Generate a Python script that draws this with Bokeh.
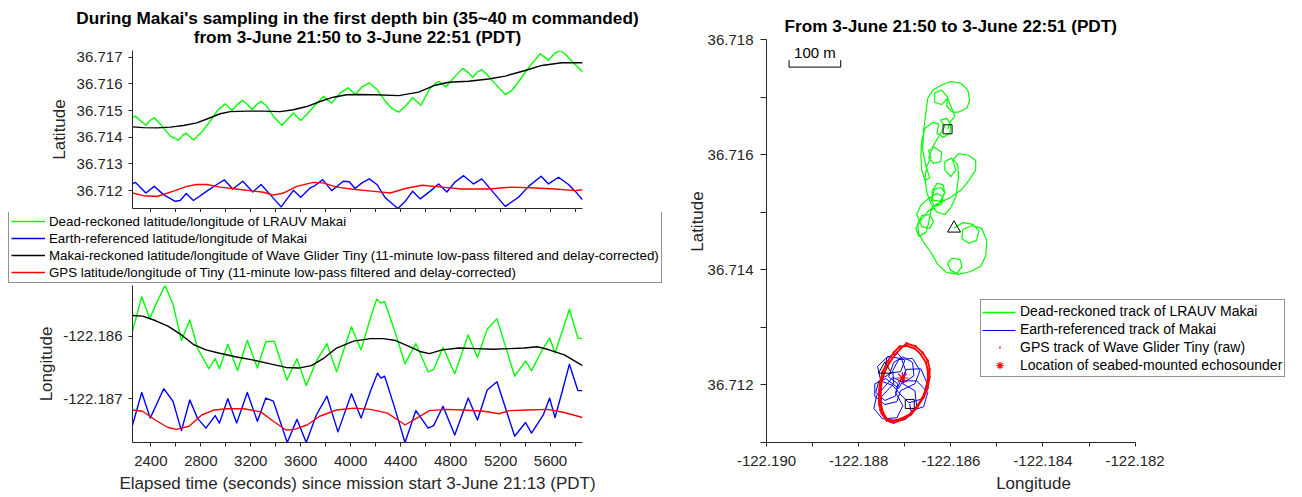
from bokeh.plotting import figure
from bokeh.layouts import row, column
from bokeh.models import (Range1d, FixedTicker, PrintfTickFormatter, CustomJSTickFormatter,
                          Legend, LegendItem, Label)
from bokeh.embed import file_html
from bokeh.resources import INLINE
import math

FONT = "Liberation Sans"
AXC = "#262626"
GREEN, BLUE, BLACK, RED = "#00FF00", "#0000FF", "#000000", "#FF0000"

# ---------------- time series: latitude ----------------
LAT_T_GREEN = [2253, 2275, 2315, 2360, 2395, 2427, 2475, 2555, 2621, 2656,
               2683, 2709, 2741, 2808, 2875, 2933, 2995, 3048, 3093, 3136,
               3173, 3211, 3248, 3283, 3328, 3381, 3448, 3501, 3541, 3600,
               3648, 3701, 3781, 3848, 3915, 3981, 4037, 4090, 4149, 4210,
               4277, 4330, 4384, 4437, 4496, 4562, 4637, 4704, 4762, 4837,
               4898, 4944, 4978, 5016, 5050, 5104, 5157, 5237, 5290, 5344,
               5424, 5517, 5552, 5584, 5629, 5677, 5722, 5770, 5818, 5856]
LAT_GREEN = [36.71473, 36.71479, 36.71463, 36.71445, 36.71463, 36.71473, 36.71450, 36.71404, 36.71389, 36.71408,
             36.71415, 36.71404, 36.71390, 36.71420, 36.71460, 36.71500, 36.71525, 36.71500, 36.71523, 36.71538,
             36.71523, 36.71504, 36.71523, 36.71535, 36.71516, 36.71479, 36.71445, 36.71470, 36.71491, 36.71463,
             36.71485, 36.71513, 36.71553, 36.71528, 36.71566, 36.71585, 36.71560, 36.71588, 36.71604, 36.71579,
             36.71535, 36.71508, 36.71494, 36.71516, 36.71548, 36.71520, 36.71585, 36.71610, 36.71588, 36.71629,
             36.71658, 36.71641, 36.71625, 36.71645, 36.71653, 36.71629, 36.71600, 36.71560, 36.71575, 36.71608,
             36.71660, 36.71713, 36.71700, 36.71688, 36.71713, 36.71725, 36.71710, 36.71685, 36.71663, 36.71645]

LAT_T_BLUE = [2253, 2275, 2315, 2360, 2427, 2501, 2595, 2635, 2683, 2741,
              2848, 2928, 2989, 3056, 3136, 3216, 3283, 3355, 3443, 3541,
              3600, 3675, 3715, 3776, 3848, 3941, 3989, 4035, 4090, 4149,
              4210, 4277, 4378, 4437, 4496, 4557, 4637, 4704, 4770, 4837,
              4904, 4984, 5050, 5157, 5237, 5344, 5424, 5525, 5584, 5664,
              5744, 5797, 5856]
LAT_BLUE = [36.71225, 36.71231, 36.71213, 36.71191, 36.71216, 36.71185, 36.71160, 36.71163, 36.71189, 36.71163,
            36.71198, 36.71223, 36.71240, 36.71206, 36.71235, 36.71195, 36.71223, 36.71185, 36.71139, 36.71201,
            36.71175, 36.71210, 36.71219, 36.71241, 36.71200, 36.71235, 36.71233, 36.71208, 36.71229, 36.71244,
            36.71223, 36.71173, 36.71133, 36.71160, 36.71198, 36.71169, 36.71198, 36.71225, 36.71195, 36.71233,
            36.71256, 36.71225, 36.71244, 36.71185, 36.71141, 36.71175, 36.71216, 36.71254, 36.71225, 36.71250,
            36.71223, 36.71198, 36.71166]

LAT_T_BLACK = [2253, 2341, 2448, 2555, 2661, 2768, 2875, 2955, 3035, 3168,
               3301, 3435, 3541, 3648, 3755, 3861, 3968, 4037, 4197, 4384,
               4544, 4677, 4784, 4944, 5104, 5237, 5397, 5530, 5690, 5856]
LAT_BLACK = [36.71439, 36.71436, 36.71435, 36.71438, 36.71444, 36.71454, 36.71473, 36.71488, 36.71496, 36.71498,
             36.71498, 36.71496, 36.71503, 36.71515, 36.71534, 36.71550, 36.71559, 36.71560, 36.71559, 36.71556,
             36.71569, 36.71595, 36.71606, 36.71610, 36.71618, 36.71629, 36.71650, 36.71669, 36.71679, 36.71679]

LAT_T_RED = [2253, 2341, 2448, 2581, 2688, 2768, 2848, 2955, 3115, 3301,
             3381, 3461, 3568, 3701, 3781, 3888, 4035, 4170, 4317, 4437,
             4570, 4730, 4890, 5104, 5290, 5477, 5637, 5797, 5856]
LAT_RED = [36.71191, 36.71181, 36.71178, 36.71198, 36.71216, 36.71223, 36.71223, 36.71213, 36.71204, 36.71194,
           36.71183, 36.71191, 36.71216, 36.71231, 36.71229, 36.71213, 36.71204, 36.71198, 36.71191, 36.71208,
           36.71220, 36.71213, 36.71206, 36.71206, 36.71213, 36.71210, 36.71206, 36.71200, 36.71203]

# ---------------- time series: longitude ----------------
LON_T_GREEN = [2253, 2327, 2391, 2452, 2513, 2577, 2645, 2712, 2773, 2864,
               2915, 2949, 3016, 3094, 3172, 3253, 3320, 3388, 3489, 3570,
               3644, 3725, 3810, 3887, 4006, 4083, 4158, 4208, 4242, 4272,
               4353, 4435, 4522, 4620, 4664, 4739, 4833, 4941, 5015, 5093,
               5171, 5313, 5400, 5448, 5542, 5593, 5636, 5694, 5751, 5819, 5856]
LON_GREEN = [-122.18592, -122.18537, -122.18572, -122.18544, -122.18519, -122.18549, -122.18607, -122.18574, -122.18619, -122.18652,
             -122.18636, -122.18652, -122.18613, -122.18655, -122.18607, -122.18651, -122.18609, -122.18608, -122.18670, -122.18636,
             -122.18679, -122.18640, -122.18612, -122.18657, -122.18585, -122.18622, -122.18571, -122.18541, -122.18547, -122.18545,
             -122.18592, -122.18644, -122.18612, -122.18657, -122.18653, -122.18618, -122.18660, -122.18598, -122.18634, -122.18589,
             -122.18572, -122.18664, -122.18640, -122.18655, -122.18619, -122.18603, -122.18627, -122.18592, -122.18557, -122.18603, -122.18604]

LON_T_BLUE = [2253, 2327, 2395, 2503, 2577, 2645, 2712, 2773, 2841, 2915,
              2949, 3016, 3087, 3172, 3253, 3320, 3381, 3492, 3570, 3644,
              3725, 3810, 3898, 4006, 4083, 4158, 4215, 4242, 4272, 4353,
              4435, 4522, 4620, 4664, 4739, 4833, 4941, 5015, 5093, 5171,
              5313, 5400, 5448, 5542, 5593, 5636, 5694, 5751, 5819, 5856]
LON_BLUE = [-122.18742, -122.18690, -122.18731, -122.18684, -122.18704, -122.18751, -122.18702, -122.18731, -122.18747, -122.18727,
            -122.18739, -122.18700, -122.18739, -122.18690, -122.18736, -122.18699, -122.18704, -122.18770, -122.18733, -122.18770,
            -122.18726, -122.18696, -122.18753, -122.18692, -122.18731, -122.18688, -122.18659, -122.18667, -122.18664, -122.18715,
            -122.18770, -122.18719, -122.18747, -122.18743, -122.18712, -122.18758, -122.18699, -122.18734, -122.18686, -122.18673,
            -122.18760, -122.18738, -122.18755, -122.18726, -122.18699, -122.18730, -122.18688, -122.18645, -122.18687, -122.18687]

LON_T_BLACK = [2253, 2334, 2435, 2537, 2638, 2739, 2841, 2942, 3077, 3212,
               3347, 3482, 3584, 3685, 3786, 3887, 4023, 4158, 4259, 4360,
               4462, 4563, 4630, 4732, 4867, 5002, 5137, 5272, 5390, 5492,
               5576, 5711, 5856]
LON_BLACK = [-122.18567, -122.18568, -122.18575, -122.18584, -122.18597, -122.18613, -122.18622, -122.18627, -122.18633, -122.18638,
             -122.18644, -122.18650, -122.18651, -122.18647, -122.18635, -122.18619, -122.18608, -122.18604, -122.18604, -122.18607,
             -122.18616, -122.18625, -122.18628, -122.18622, -122.18619, -122.18620, -122.18621, -122.18620, -122.18619, -122.18617,
             -122.18621, -122.18630, -122.18647]

LON_T_RED = [2253, 2334, 2435, 2537, 2604, 2706, 2807, 2908, 3010, 3145,
             3280, 3381, 3482, 3550, 3651, 3752, 3887, 4023, 4158, 4293,
             4394, 4435, 4529, 4630, 4765, 4901, 5069, 5188, 5272, 5407,
             5576, 5711, 5856]
LON_RED = [-122.18718, -122.18720, -122.18734, -122.18746, -122.18749, -122.18744, -122.18726, -122.18718, -122.18716, -122.18716,
           -122.18721, -122.18736, -122.18750, -122.18749, -122.18742, -122.18728, -122.18718, -122.18715, -122.18717, -122.18723,
           -122.18736, -122.18742, -122.18731, -122.18719, -122.18717, -122.18718, -122.18720, -122.18724, -122.18719, -122.18718,
           -122.18717, -122.18722, -122.18730]

# ---------------- map tracks ----------------
MAP_GREEN_LON = [-122.18593, -122.18574, -122.18552, -122.18539, -122.18544, -122.18561, -122.18576, -122.18574, -122.18554, -122.18533,
                 -122.18522, -122.18524, -122.18535, -122.18557, -122.18583, -122.18600, -122.18607, -122.18598, -122.18580, -122.18576,
                 -122.18587, -122.18609, -122.18628, -122.18643, -122.18656, -122.18669, -122.18672, -122.18663, -122.18646, -122.18637,
                 -122.18646, -122.18663, -122.18674, -122.18665, -122.18648, -122.18630, -122.18617, -122.18620, -122.18635, -122.18643,
                 -122.18635, -122.18620, -122.18613, -122.18622, -122.18639, -122.18641, -122.18630, -122.18617, -122.18613, -122.18626,
                 -122.18648, -122.18665, -122.18676, -122.18669, -122.18654, -122.18648, -122.18643, -122.18630, -122.18604, -122.18578,
                 -122.18561, -122.18546, -122.18546, -122.18561, -122.18583, -122.18596, -122.18589, -122.18600, -122.18613, -122.18613,
                 -122.18598, -122.18585, -122.18583, -122.18589, -122.18600, -122.18613, -122.18630, -122.18643, -122.18652, -122.18656,
                 -122.18652, -122.18643, -122.18648, -122.18635, -122.18620, -122.18622, -122.18637, -122.18648, -122.18639, -122.18626,
                 -122.18613, -122.18622, -122.18609, -122.18600, -122.18602, -122.18617, -122.18630, -122.18626, -122.18639, -122.18656,
                 -122.18663, -122.18665, -122.18663, -122.18656, -122.18646, -122.18654, -122.18661, -122.18659, -122.18654, -122.18650,
                 -122.18639, -122.18622, -122.18600, -122.18578, -122.18563, -122.18559, -122.18565, -122.18583, -122.18596, -122.18609,
                 -122.18607, -122.18620, -122.18635, -122.18635, -122.18620, -122.18607, -122.18591, -122.18602, -122.18607]
MAP_GREEN_LAT = [36.71472, 36.71482, 36.71479, 36.71467, 36.71451, 36.71446, 36.71454, 36.71470, 36.71477, 36.71472,
                 36.71451, 36.71425, 36.71406, 36.71397, 36.71392, 36.71399, 36.71411, 36.71420, 36.71418, 36.71406,
                 36.71393, 36.71395, 36.71409, 36.71430, 36.71444, 36.71461, 36.71479, 36.71494, 36.71496, 36.71484,
                 36.71472, 36.71475, 36.71496, 36.71512, 36.71524, 36.71533, 36.71527, 36.71514, 36.71510, 36.71522,
                 36.71540, 36.71543, 36.71533, 36.71519, 36.71521, 36.71536, 36.71550, 36.71548, 36.71534, 36.71515,
                 36.71503, 36.71486, 36.71472, 36.71458, 36.71465, 36.71482, 36.71503, 36.71515, 36.71524, 36.71538,
                 36.71555, 36.71573, 36.71590, 36.71599, 36.71602, 36.71590, 36.71573, 36.71562, 36.71573, 36.71588,
                 36.71594, 36.71583, 36.71562, 36.71527, 36.71508, 36.71496, 36.71500, 36.71514, 36.71534, 36.71559,
                 36.71580, 36.71594, 36.71607, 36.71613, 36.71604, 36.71588, 36.71585, 36.71594, 36.71614, 36.71632,
                 36.71649, 36.71660, 36.71663, 36.71653, 36.71637, 36.71630, 36.71637, 36.71653, 36.71656, 36.71646,
                 36.71625, 36.71599, 36.71573, 36.71555, 36.71560, 36.71581, 36.71607, 36.71642, 36.71674, 36.71698,
                 36.71712, 36.71720, 36.71727, 36.71724, 36.71712, 36.71694, 36.71681, 36.71674, 36.71674, 36.71684,
                 36.71700, 36.71712, 36.71707, 36.71691, 36.71687, 36.71698, 36.71667, 36.71656, 36.71644]

MAP_BLUE_LON = [-122.18743, -122.18739, -122.18717, -122.18700, -122.18709, -122.18730, -122.18756, -122.18763, -122.18743, -122.18720,
                -122.18715, -122.18735, -122.18724, -122.18704, -122.18683, -122.18680, -122.18702, -122.18726, -122.18761, -122.18767,
                -122.18748, -122.18717, -122.18704, -122.18720, -122.18709, -122.18696, -122.18665, -122.18652, -122.18661, -122.18691,
                -122.18711, -122.18726, -122.18752, -122.18759, -122.18737, -122.18707, -122.18698, -122.18704, -122.18678, -122.18674,
                -122.18698, -122.18733, -122.18754, -122.18750, -122.18724, -122.18726, -122.18713, -122.18683, -122.18667, -122.18678,
                -122.18709, -122.18717, -122.18743, -122.18765, -122.18765, -122.18741, -122.18713, -122.18704, -122.18674, -122.18650,
                -122.18659, -122.18687, -122.18689]
MAP_BLUE_LAT = [36.71227, 36.71247, 36.71256, 36.71242, 36.71223, 36.71221, 36.71207, 36.71187, 36.71173, 36.71181,
                36.71202, 36.71214, 36.71239, 36.71249, 36.71239, 36.71216, 36.71204, 36.71213, 36.71181, 36.71159,
                36.71141, 36.71143, 36.71164, 36.71187, 36.71207, 36.71227, 36.71228, 36.71204, 36.71176, 36.71169,
                36.71185, 36.71199, 36.71207, 36.71232, 36.71249, 36.71246, 36.71225, 36.71202, 36.71190, 36.71162,
                36.71140, 36.71136, 36.71155, 36.71180, 36.71202, 36.71225, 36.71244, 36.71246, 36.71225, 36.71202,
                36.71190, 36.71171, 36.71166, 36.71180, 36.71202, 36.71211, 36.71194, 36.71207, 36.71207, 36.71187,
                36.71162, 36.71155, 36.71167]

MAP_RED_LON = [-122.18696, -122.18676, -122.18661, -122.18650, -122.18646, -122.18646, -122.18650, -122.18659, -122.18672, -122.18687,
               -122.18704, -122.18724, -122.18739, -122.18750, -122.18756, -122.18756, -122.18754, -122.18748, -122.18737, -122.18724,
               -122.18711, -122.18696, -122.18678, -122.18665, -122.18654, -122.18650, -122.18650, -122.18654, -122.18663, -122.18676,
               -122.18691, -122.18709, -122.18726, -122.18739, -122.18748, -122.18752, -122.18752, -122.18750, -122.18743, -122.18733,
               -122.18720, -122.18709, -122.18696]
MAP_RED_LAT = [36.71272, 36.71267, 36.71256, 36.71242, 36.71228, 36.71213, 36.71195, 36.71178, 36.71162, 36.71148,
               36.71140, 36.71134, 36.71138, 36.71150, 36.71167, 36.71187, 36.71204, 36.71223, 36.71241, 36.71256,
               36.71267, 36.71268, 36.71263, 36.71253, 36.71239, 36.71225, 36.71209, 36.71192, 36.71176, 36.71160,
               36.71148, 36.71141, 36.71138, 36.71141, 36.71154, 36.71169, 36.71187, 36.71206, 36.71223, 36.71239,
               36.71253, 36.71263, 36.71272]

ECHO_LON = [-122.18705]
ECHO_LAT = [36.71212]

# ---------------- ticks / labels ----------------
TIME_TICKS = [2400, 2800, 3200, 3600, 4000, 4400, 4800, 5200, 5600]
TIME_MINOR = [2600, 3000, 3400, 3800, 4200, 4600, 5000, 5400, 5800]
LAT_TICKS = [36.712, 36.713, 36.714, 36.715, 36.716, 36.717]
LON_TICKS = [-122.187, -122.186]
MAP_LON_TICKS = [-122.190, -122.188, -122.186, -122.184, -122.182]
MAP_LON_MINOR = [-122.189, -122.187, -122.185, -122.183]
MAP_LAT_TICKS = [36.712, 36.714, 36.716, 36.718]
MAP_LAT_MINOR = [36.711, 36.713, 36.715, 36.717]
MAP_LON_RANGE = (-122.190, -122.182)
MAP_LAT_RANGE = (36.711, 36.718)

LEGEND_LEFT = ["Dead-reckoned latitude/longitude of LRAUV Makai",
               "Earth-referenced latitude/longitude of Makai",
               "Makai-reckoned latitude/longitude of Wave Glider Tiny (11-minute low-pass filtered and delay-corrected)",
               "GPS latitude/longitude of Tiny (11-minute low-pass filtered and delay-corrected)"]
LEGEND_RIGHT = ["Dead-reckoned track of LRAUV Makai",
                "Earth-referenced track of Makai",
                "GPS track of Wave Glider Tiny (raw)",
                "Location of seabed-mounted echosounder"]
TITLE_LEFT = ["During Makai's sampling in the first depth bin (35~40 m commanded)",
              "from 3-June 21:50 to 3-June 22:51 (PDT)"]
TITLE_RIGHT = "From 3-June 21:50 to 3-June 22:51 (PDT)"
SCALE_BAR_M = 100


def style(p):
    p.outline_line_color = None
    p.xgrid.visible = False
    p.ygrid.visible = False
    p.background_fill_color = "white"
    p.border_fill_color = "white"
    for ax in p.axis:
        ax.axis_line_color = AXC
        ax.axis_line_width = 1
        ax.major_tick_line_color = AXC
        ax.minor_tick_line_color = AXC
        ax.major_tick_in = 0
        ax.minor_tick_in = 0
        ax.major_tick_out = 4
        ax.minor_tick_out = 4
        ax.major_label_text_font = FONT
        ax.major_label_text_font_size = "15px"
        ax.major_label_text_color = AXC
        ax.axis_label_text_font = FONT
        ax.axis_label_text_font_size = "17px"
        ax.axis_label_text_font_style = "normal"
        ax.axis_label_text_color = AXC


def blank(width, height):
    f = figure(width=width, height=height, title=None, output_backend="svg", toolbar_location=None,
               x_range=Range1d(0, 1), y_range=Range1d(0, 1),
               x_axis_location=None, y_axis_location=None,
               min_border_left=0, min_border_right=0, min_border_top=0, min_border_bottom=0)
    f.frame_align = False
    f.outline_line_color = None
    f.xgrid.visible = False
    f.ygrid.visible = False
    f.background_fill_color = "white"
    f.border_fill_color = "white"
    return f


ALL_T = (LAT_T_GREEN, LAT_T_BLUE, LAT_T_BLACK, LAT_T_RED, LON_T_GREEN, LON_T_BLUE, LON_T_BLACK, LON_T_RED)
t_lo = min(a[0] for a in ALL_T)
t_hi = max(a[-1] for a in ALL_T)
lat_lo = min(min(a) for a in (LAT_GREEN, LAT_BLUE, LAT_BLACK, LAT_RED))
lat_hi = max(max(a) for a in (LAT_GREEN, LAT_BLUE, LAT_BLACK, LAT_RED))
lon_lo = min(min(a) for a in (LON_GREEN, LON_BLUE, LON_BLACK, LON_RED))
lon_hi = max(max(a) for a in (LON_GREEN, LON_BLUE, LON_BLACK, LON_RED))

LW = 1.4
W1 = 672
BL, BR = 132, 90
FW1 = W1 - BL - BR

# ---------------- header with the two-line title ----------------
HH = 46
head = blank(W1, HH)
for txt, yc in zip(TITLE_LEFT, (28.5, 9.5)):
    head.add_layout(Label(x=BL + FW1 / 2, y=yc, x_units="screen", y_units="screen", text=txt,
                          text_align="center", text_baseline="middle",
                          text_font=FONT, text_font_size="17.2px", text_font_style="bold",
                          text_color="#000000"))

# ---------------- top-left: latitude ----------------
H1 = 166
p1 = figure(width=W1, height=H1, title=None, output_backend="svg", toolbar_location=None,
            x_range=Range1d(t_lo, t_hi), y_range=Range1d(lat_lo, lat_hi),
            min_border_left=BL, min_border_right=BR, min_border_top=4, min_border_bottom=4)
for xs, ys, c in ((LAT_T_GREEN, LAT_GREEN, GREEN), (LAT_T_BLUE, LAT_BLUE, BLUE),
                  (LAT_T_BLACK, LAT_BLACK, BLACK), (LAT_T_RED, LAT_RED, RED)):
    p1.line(xs, ys, line_color=c, line_width=LW, line_join="round")
style(p1)
p1.xaxis.ticker = FixedTicker(ticks=TIME_TICKS, minor_ticks=TIME_MINOR)
p1.xaxis.formatter = CustomJSTickFormatter(code="return '';")
p1.xaxis.major_label_text_font_size = "0px"
p1.xaxis.major_label_standoff = 0
p1.yaxis.ticker = FixedTicker(ticks=LAT_TICKS)
p1.yaxis.formatter = PrintfTickFormatter(format="%.3f")
p1.yaxis.axis_label = "Latitude"
p1.yaxis.major_label_standoff = 6
p1.yaxis.axis_label_standoff = 5

# ---------------- legend strip ----------------
HL = 73
legfig = blank(W1, HL)
lr = [legfig.multi_line([[]], [[]], line_color=c, line_width=LW) for c in (GREEN, BLUE, BLACK, RED)]
leg1 = Legend(items=[LegendItem(label=LEGEND_LEFT[i], renderers=[r]) for i, r in enumerate(lr)],
              location=(8, 2), orientation="vertical",
              label_text_font=FONT, label_text_font_size="13.3px", label_text_color="#000000",
              glyph_width=34, glyph_height=16, label_height=16, label_standoff=4,
              spacing=1, padding=2, margin=0,
              border_line_color=AXC, border_line_width=1,
              background_fill_color="white", background_fill_alpha=1.0)
legfig.add_layout(leg1)

# ---------------- bottom-left: longitude ----------------
H2 = 212
p2 = figure(width=W1, height=H2, title=None, output_backend="svg", toolbar_location=None,
            x_range=p1.x_range, y_range=Range1d(lon_lo, lon_hi),
            min_border_left=BL, min_border_right=BR, min_border_top=0, min_border_bottom=55)
for xs, ys, c in ((LON_T_GREEN, LON_GREEN, GREEN), (LON_T_BLUE, LON_BLUE, BLUE),
                  (LON_T_BLACK, LON_BLACK, BLACK), (LON_T_RED, LON_RED, RED)):
    p2.line(xs, ys, line_color=c, line_width=LW, line_join="round")
style(p2)
p2.xaxis.ticker = FixedTicker(ticks=TIME_TICKS, minor_ticks=TIME_MINOR)
p2.xaxis.formatter = PrintfTickFormatter(format="%d")
p2.xaxis.axis_label = "Elapsed time (seconds) since mission start 3-June 21:13 (PDT)"
p2.xaxis.major_label_standoff = 9
p2.xaxis.axis_label_standoff = 5
p2.yaxis.ticker = FixedTicker(ticks=LON_TICKS)
p2.yaxis.formatter = PrintfTickFormatter(format="%.3f")
p2.yaxis.axis_label = "Longitude"
p2.yaxis.major_label_standoff = 6
p2.yaxis.axis_label_standoff = 4

# ---------------- right: map ----------------
W3, H3 = 630, 497
BL3, BR3, BT3, BB3 = 94, 2, 0, 55
FW3 = W3 - BL3 - BR3          # full frame width (px)
FH3 = H3 - BT3 - BB3          # full frame height (px)
AXW3, AXH3 = 368.6, 403       # px spanned by the drawn axes
x_end = MAP_LON_RANGE[0] + (MAP_LON_RANGE[1] - MAP_LON_RANGE[0]) * FW3 / AXW3
y_end = MAP_LAT_RANGE[0] + (MAP_LAT_RANGE[1] - MAP_LAT_RANGE[0]) * FH3 / AXH3
DXP = (x_end - MAP_LON_RANGE[0]) / FW3     # degrees per px
DYP = (y_end - MAP_LAT_RANGE[0]) / FH3
p3 = figure(width=W3, height=H3, title=None, output_backend="svg", toolbar_location=None,
            x_range=Range1d(MAP_LON_RANGE[0], x_end), y_range=Range1d(MAP_LAT_RANGE[0], y_end),
            min_border_left=BL3, min_border_right=BR3, min_border_top=BT3, min_border_bottom=BB3)
p3.line(MAP_GREEN_LON, MAP_GREEN_LAT, line_color=GREEN, line_width=1.2, line_join="round")
p3.line(MAP_BLUE_LON, MAP_BLUE_LAT, line_color=BLUE, line_width=1.0, line_join="round")
p3.line(MAP_RED_LON, MAP_RED_LAT, line_color=RED, line_width=1.8, line_join="round")
mr = p3.scatter(MAP_RED_LON, MAP_RED_LAT, marker="dot", size=9, fill_color=RED, line_color=RED)
me = p3.scatter(ECHO_LON, ECHO_LAT, marker="asterisk", size=12, line_color=RED, line_width=1.2)
p3.scatter([MAP_GREEN_LON[0], MAP_BLUE_LON[0]], [MAP_GREEN_LAT[0], MAP_BLUE_LAT[0]],
           marker="triangle", size=13, fill_color=None, line_color="black", line_width=1)
p3.scatter([MAP_GREEN_LON[-1], MAP_BLUE_LON[-1]], [MAP_GREEN_LAT[-1], MAP_BLUE_LAT[-1]],
           marker="square", size=9, fill_color=None, line_color="black", line_width=1)
# scale bar (100 m)
sb_lat = 36.71752
sb_lon0 = -122.18951
sb_dlon = SCALE_BAR_M / (111320.0 * math.cos(math.radians(sum(MAP_LAT_RANGE) / 2)))
p3.line([sb_lon0, sb_lon0, sb_lon0 + sb_dlon, sb_lon0 + sb_dlon],
        [sb_lat + 0.00012, sb_lat, sb_lat, sb_lat + 0.00012], line_color="black", line_width=1)

# legend: line keys are drawn as plain glyphs under a transparent legend box
LEG3_X, LEG3_Y, LEG3_PAD, LEG3_ROW, LEG3_GW = 214, 65, 2, 18, 33
leg3_top = LEG3_Y + 4 * LEG3_ROW + 2 * LEG3_PAD
for k, (c, w) in enumerate(((GREEN, 1.3), (BLUE, 1.2))):
    yk = leg3_top - LEG3_PAD - LEG3_ROW * k - LEG3_ROW / 2
    xa = MAP_LON_RANGE[0] + (LEG3_X + LEG3_PAD) * DXP
    xb = MAP_LON_RANGE[0] + (LEG3_X + LEG3_PAD + LEG3_GW) * DXP
    ya = MAP_LAT_RANGE[0] + yk * DYP
    p3.segment(x0=[xa], y0=[ya], x1=[xb], y1=[ya], line_color=c, line_width=w)
key_blank = p3.scatter([], [], marker="circle", size=1, fill_alpha=0, line_alpha=0)

style(p3)
p3.xaxis.bounds = MAP_LON_RANGE
p3.yaxis.bounds = MAP_LAT_RANGE
p3.xaxis.ticker = FixedTicker(ticks=MAP_LON_TICKS, minor_ticks=MAP_LON_MINOR)
p3.xaxis.formatter = PrintfTickFormatter(format="%.3f")
p3.xaxis.axis_label = "Longitude"
p3.xaxis.major_label_standoff = 9
p3.xaxis.axis_label_standoff = 5
p3.yaxis.ticker = FixedTicker(ticks=MAP_LAT_TICKS, minor_ticks=MAP_LAT_MINOR)
p3.yaxis.formatter = PrintfTickFormatter(format="%.3f")
p3.yaxis.axis_label = "Latitude"
p3.yaxis.major_tick_out = 6
p3.yaxis.minor_tick_out = 6
p3.yaxis.major_label_standoff = 7
p3.yaxis.axis_label_standoff = -2

leg3 = Legend(items=[LegendItem(label=LEGEND_RIGHT[i], renderers=[r])
                     for i, r in enumerate((key_blank, key_blank, mr, me))],
              location=(LEG3_X, LEG3_Y), orientation="vertical",
              label_text_font=FONT, label_text_font_size="14px", label_text_color="#000000",
              glyph_width=LEG3_GW, glyph_height=LEG3_ROW, label_height=LEG3_ROW, label_standoff=4,
              spacing=0, padding=LEG3_PAD, margin=0,
              border_line_color=AXC, border_line_width=1,
              background_fill_alpha=0.0)
p3.add_layout(leg3)

p3.add_layout(Label(x=AXW3 / 2, y=AXH3 + 14, x_units="screen", y_units="screen", text=TITLE_RIGHT,
                    text_align="center", text_baseline="middle",
                    text_font=FONT, text_font_size="17.2px", text_font_style="bold",
                    text_color="#000000"))
p3.add_layout(Label(x=sb_lon0 + sb_dlon / 2, y=36.71778, text="%d m" % SCALE_BAR_M,
                    text_align="center", text_baseline="middle",
                    text_font=FONT, text_font_size="15px", text_color="#000000"))

layout = row(column(head, p1, legfig, p2), p3)
open("out.html", "w").write(file_html(layout, INLINE))
